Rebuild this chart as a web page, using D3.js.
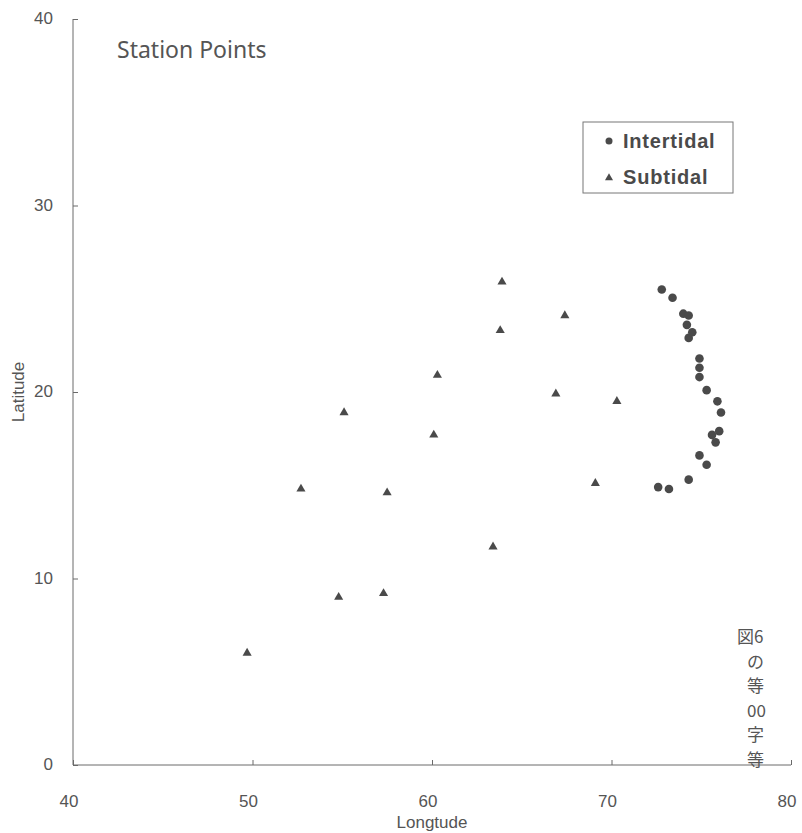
<!DOCTYPE html>
<html>
<head>
<meta charset="utf-8">
<script src="https://cdn.jsdelivr.net/npm/d3@7"></script>
<style>
  body { margin: 0; background: #fff; }
  .tick-label { font-family: "Liberation Sans", Arial, sans-serif; font-size: 17px; fill: #555; }
  .axis-title { font-family: "Liberation Sans", Arial, sans-serif; font-size: 17px; fill: #555; }
  .chart-title { font-family: "Noto Sans", "DejaVu Sans", sans-serif; font-size: 23px; fill: #555; }
  .legend { font-family: "Liberation Sans", Arial, sans-serif; font-size: 20px; font-weight: bold; fill: #4a4a4a; letter-spacing: 0.8px; }
  .caption { font-family: "Noto Sans CJK JP", sans-serif; font-size: 17px; fill: #555; }
</style>
</head>
<body>
<div id="viz_container"></div>
<script>
// data
const intertidalLon = [72.8, 73.4, 74.0, 74.3, 74.2, 74.3, 74.5, 74.9, 74.9, 74.9, 75.3, 75.9, 76.1, 76.0, 75.6, 75.8, 74.9, 75.3, 74.3, 72.6, 73.2];
const intertidalLat = [25.5, 25.05, 24.2, 24.1, 23.6, 22.9, 23.2, 21.8, 21.3, 20.8, 20.1, 19.5, 18.9, 17.9, 17.7, 17.3, 16.6, 16.1, 15.3, 14.9, 14.8];
const subtidalLon = [63.9, 67.4, 63.8, 60.3, 66.9, 70.3, 55.1, 60.1, 52.7, 57.5, 69.1, 63.4, 54.8, 57.3, 49.7];
const subtidalLat = [25.9, 24.1, 23.3, 20.9, 19.9, 19.5, 18.9, 17.7, 14.8, 14.6, 15.1, 11.7, 9.0, 9.2, 6.0];
const xTicks = [40, 50, 60, 70, 80];
const yTicks = [0, 10, 20, 30, 40];
const captionLines = ["図6", "の", "等", "00", "字", "等"];

// set the dimensions and margins of the graph
const margin = {top: 19, right: 11, bottom: 68, left: 73};
const width = 802 - margin.left - margin.right;
const height = 833 - margin.top - margin.bottom;

const svg = d3.select("#viz_container")
  .append("svg")
    .attr("width", 802)
    .attr("height", 833)
  .append("g")
    .attr("transform", `translate(${margin.left}, ${margin.top})`);

const xScale = d3.scaleLinear().domain([40, 80]).range([0, width]);
const yScale = d3.scaleLinear().domain([0, 40]).range([height, 0]);

const axisColor = "#6a6a6a";
const markColor = "#4a4a4a";

// X axis (ticks point up, inside)
svg.append("g")
  .attr("transform", `translate(0, ${height})`)
  .call(d3.axisBottom(xScale).tickValues(xTicks).tickSize(-5).tickFormat(""))
  .call(g => g.selectAll("line").attr("stroke", axisColor))
  .call(g => g.select(".domain").attr("stroke", axisColor).attr("d", `M0,0H${width}`));

// Y axis (ticks point right, inside)
svg.append("g")
  .call(d3.axisLeft(yScale).tickValues(yTicks).tickSize(-5).tickFormat(""))
  .call(g => g.selectAll("line").attr("stroke", axisColor))
  .call(g => g.select(".domain").attr("stroke", axisColor).attr("d", `M0,0V${height}`));

// tick labels
svg.selectAll(".xlab")
  .data(xTicks)
  .join("text")
    .attr("class", "tick-label")
    .attr("x", d => xScale(d) - 4)
    .attr("y", height + 42)
    .attr("text-anchor", "middle")
  .text(d => d);

svg.selectAll(".ylab")
  .data(yTicks)
  .join("text")
    .attr("class", "tick-label")
    .attr("x", -20)
    .attr("y", d => yScale(d) + 5)
    .attr("text-anchor", "end")
  .text(d => d);

// axis titles
svg.append("text")
  .attr("class", "axis-title")
  .attr("x", xScale(60))
  .attr("y", height + 63)
  .attr("text-anchor", "middle")
  .text("Longtude");

svg.append("text")
  .attr("class", "axis-title")
  .attr("transform", `translate(${-margin.left + 24}, ${yScale(20)}) rotate(-90)`)
  .attr("text-anchor", "middle")
  .text("Latitude");

// title
svg.append("text")
  .attr("class", "chart-title")
  .attr("x", 44)
  .attr("y", 39)
  .text("Station Points");

// subtidal triangles
const triangle = d3.symbol().type(d3.symbolTriangle).size(36);
svg.selectAll(".sub")
  .data(subtidalLon.map((lon, i) => ({lon: lon, lat: subtidalLat[i]})))
  .join("path")
    .attr("d", triangle)
    .attr("transform", d => `translate(${xScale(d.lon)}, ${yScale(d.lat)})`)
    .style("fill", markColor);

// intertidal circles
svg.selectAll(".inter")
  .data(intertidalLon.map((lon, i) => ({lon: lon, lat: intertidalLat[i]})))
  .join("circle")
    .attr("cx", d => xScale(d.lon))
    .attr("cy", d => yScale(d.lat))
    .attr("r", 4.3)
    .style("fill", markColor);

// legend
const lg = svg.append("g").attr("transform", "translate(510, 103)");
lg.append("rect")
  .attr("width", 150)
  .attr("height", 71)
  .attr("fill", "none")
  .attr("stroke", "#777")
  .attr("stroke-width", 1);
lg.append("circle")
  .attr("cx", 26).attr("cy", 19).attr("r", 3.5)
  .style("fill", markColor);
lg.append("text")
  .attr("class", "legend")
  .attr("x", 40).attr("y", 26)
  .text("Intertidal");
lg.append("path")
  .attr("d", d3.symbol().type(d3.symbolTriangle).size(28))
  .attr("transform", "translate(26, 56)")
  .style("fill", markColor);
lg.append("text")
  .attr("class", "legend")
  .attr("x", 40).attr("y", 62)
  .text("Subtidal");

// caption fragment from the page
svg.selectAll(".cap")
  .data(captionLines)
  .join("text")
    .attr("class", "caption")
    .attr("x", (d, i) => i === 0 ? 664 : 674)
    .attr("y", (d, i) => 624 + i * 24.5)
  .text(d => d);
</script>
</body>
</html>
